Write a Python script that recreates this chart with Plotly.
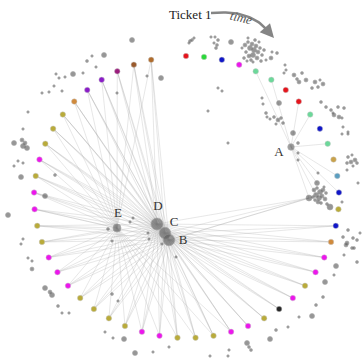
import math
import plotly.graph_objects as go

# ---- ticket ring: colour class of each ticket, in time order (clockwise from top)
ticket_class = [
    "red", "green", "blue", "magenta", "mint", "mint", "red", "red", "mint", "blue",
    "mint", "tan", "teal", "blue", "olive", "blue", "orange", "magenta", "magenta", "olive",
    "magenta", "black", "olive", "magenta", "magenta", "olive", "olive", "olive", "magenta", "magenta",
    "olive", "olive", "olive", "olive", "magenta", "magenta", "magenta", "olive", "olive", "magenta",
    "magenta", "olive", "magenta", "olive", "olive", "olive", "orange", "violet", "violet", "plum",
    "brown", "rust",
]
class_colour = {
    "red": "#e5141c", "green": "#2bd83a", "blue": "#1016c8", "magenta": "#ec16ec",
    "mint": "#6cd89a", "tan": "#c9a24a", "teal": "#5b9ec0", "olive": "#b9ab3a",
    "orange": "#d08a3c", "black": "#262626", "violet": "#8a1cc8", "plum": "#9a1c7c",
    "brown": "#9a5a2c", "rust": "#b06c2c",
}

# ring layout (layout units, y grows downward)
ring_cx, ring_cy, ring_rx, ring_ry = 186.5, 197.0, 152.5, 141.0
ring_start_deg, ring_step_deg = 90.2, 6.8

# ---- hub nodes
hub_names = ["D", "C", "B", "E", "A"]
hub_x = [157, 165, 169, 117, 291]
hub_y = [224, 233, 240, 228, 147]
hub_size = [12, 11.5, 11.5, 8, 6.5]
hub_label_x = [158, 174, 183, 118, 279]
hub_label_y = [207, 223, 241, 214, 153]

# tickets linked to the central hubs (B, C, D) and to E, and to A
hub_linked = list(range(15, 52))
e_linked = list(range(24, 52))
a_linked = [4, 5, 7, 8, 10, 12, 13]

# ---- other nodes: layout x, layout y, size
node_x = [
    190, 192, 194, 189, 211, 215, 218, 217, 216, 214, 231,
    245, 248, 250, 252, 254, 256, 258, 253, 249, 246, 260, 262, 257, 251, 255, 244, 264, 248, 259, 266, 253, 242, 261, 247,
    271, 277, 272, 285, 284, 286, 218, 222, 208,
    294, 299, 302, 306, 297, 315, 318, 323, 312, 320, 279, 262, 263, 267,
    266, 274, 278, 281, 283, 276, 270, 293,
    321, 326, 331, 338, 334, 339, 344, 333, 342, 343, 348,
    298, 298, 298, 342, 348, 348, 352, 355, 351, 347, 357, 353, 347, 358, 318, 317, 228,
    314, 317, 320, 323, 316, 319, 322, 325, 318, 321, 326, 313, 327, 315, 324, 309, 330, 342,
    348, 343, 353, 347, 352, 357, 360, 346, 354, 357, 344,
    336, 334, 325, 323, 316, 312, 299, 288, 276, 270, 247, 249, 251, 229, 228, 210,
    45, 52, 50, 58, 62, 69, 112, 118, 105, 113, 124, 135, 153, 169,
    45, 8, 23, 21, 28, 32, 32, 14, 18, 23, 21, 55,
    104, 92, 96, 87, 83, 73, 65, 56, 59, 54, 49, 42, 62, 117, 28, 23, 14, 22, 23, 27, 25,
    132, 161, 147,
    108, 130, 133, 112, 148, 149, 162, 176,
]
node_y = [
    41, 40, 38, 43, 37, 37, 40, 45, 48, 43, 42,
    45, 42, 48, 44, 50, 46, 52, 55, 56, 52, 48, 55, 58, 60, 40, 58, 50, 38, 42, 60, 62, 48, 61, 61,
    58, 53, 52, 65, 73, 70, 88, 91, 111,
    75, 82, 73, 80, 79, 82, 87, 84, 88, 80, 103, 98, 104, 117,
    113, 117, 120, 118, 123, 124, 119, 133,
    102, 107, 110, 107, 115, 117, 108, 113, 118, 127, 132,
    143, 153, 160, 134, 134, 157, 155, 160, 162, 163, 163, 166, 170, 183, 173, 183, 143,
    190, 188, 192, 190, 195, 198, 196, 199, 202, 203, 193, 197, 204, 200, 187, 198, 207, 202,
    230, 237, 238, 243, 248, 240, 233, 245, 248, 262, 255,
    266, 275, 282, 297, 305, 316, 317, 327, 330, 339, 343, 347, 350, 350, 356, 356,
    288, 295, 292, 306, 313, 313, 294, 301, 332, 338, 339, 353, 352, 347,
    196, 215, 239, 244, 258, 261, 269, 166, 161, 163, 177, 175,
    55, 56, 67, 61, 73, 74, 77, 74, 78, 86, 92, 93, 91, 93, 112, 129, 143, 140, 146, 148, 143,
    40, 78, 76,
    229, 222, 218, 241, 233, 239, 244, 257,
]
node_size = [
    3, 3, 2.5, 2.5, 2.5, 2.5, 3, 3, 3, 2.5, 5,
    4, 3, 5, 4, 5, 4, 4, 5, 4, 3, 3, 3, 4, 3, 3, 3, 3, 2.5, 2.5, 2.5, 2.5, 2.5, 3, 2.5,
    4, 3, 2.5, 2.5, 2.5, 2.5, 2.5, 2.5, 2.5,
    4, 4, 3, 4, 3, 4, 3, 4, 3, 2.5, 5, 2.5, 2.5, 2.5,
    3, 3, 4, 3, 3, 2.5, 2.5, 5,
    3, 3, 3, 3, 4, 4, 3, 2.5, 2.5, 2.5, 2.5,
    3, 2.5, 2.5, 2.5, 2.5, 3, 2.5, 4, 4, 3, 3, 2.5, 2.5, 2.5, 2.5, 5, 2.5,
    4, 3, 5, 4, 5, 5, 4, 4, 4, 3, 3, 3, 3, 3, 2.5, 6, 6, 2.5,
    3, 3, 3, 4, 3, 3, 2.5, 4, 3, 3, 2.5,
    5, 2.5, 5, 3, 3, 5, 2.5, 2.5, 3, 5, 5, 3, 3, 2.5, 2.5, 2.5,
    5, 5, 4, 3, 2.5, 2.5, 3, 2.5, 2.5, 2.5, 5, 5, 2.5, 2.5,
    5, 5, 2.5, 2.5, 2.5, 2.5, 4, 2.5, 2.5, 2.5, 5, 3,
    5, 2.5, 2.5, 3, 2.5, 5, 2.5, 2.5, 2.5, 2.5, 2.5, 2.5, 2.5, 2.5, 2.5, 2.5, 5, 4, 5, 5, 4,
    5, 5, 2.5,
    3, 2.5, 2.5, 2.5, 2.5, 2.5, 2.5, 2.5,
]

# ---- ring positions from the radial layout
n_tickets = len(ticket_class)
ring_x, ring_y = [], []
for i in range(n_tickets):
    a = math.radians(ring_start_deg - i * ring_step_deg)
    ring_x.append(ring_cx + ring_rx * math.cos(a))
    ring_y.append(ring_cy - ring_ry * math.sin(a))

hub = {n: (x, y) for n, x, y in zip(hub_names, hub_x, hub_y)}

# ---- edges
ex, ey = [], []


def link(p, q):
    ex.extend([p[0], q[0], None])
    ey.extend([p[1], q[1], None])


for i in hub_linked:
    for h in ("B", "C", "D"):
        link((ring_x[i], ring_y[i]), hub[h])
for i in e_linked:
    link((ring_x[i], ring_y[i]), hub["E"])
for i in a_linked:
    link((ring_x[i], ring_y[i]), hub["A"])
# links between the right-hand cluster and the hubs
for h in ("B", "C", "D"):
    link((309, 198), hub[h])
link((313, 197), hub["B"])
link(hub["A"], (316, 195))
link(hub["A"], (309, 198))
link(hub["A"], (317, 183))

fig = go.Figure()
fig.add_trace(go.Scatter(
    x=ex, y=ey, mode="lines", hoverinfo="skip",
    line=dict(color="rgba(170,170,170,0.32)", width=0.9),
))
fig.add_trace(go.Scatter(
    x=node_x, y=node_y, mode="markers", hoverinfo="skip",
    marker=dict(size=node_size, color="rgba(70,70,70,0.8)",
                line=dict(color="rgba(130,130,130,0.6)", width=1)),
))
fig.add_trace(go.Scatter(
    x=hub_x, y=hub_y, mode="markers", hoverinfo="skip",
    marker=dict(size=hub_size, color="rgba(90,90,90,0.85)",
                line=dict(color="rgba(140,140,140,0.7)", width=1)),
))
fig.add_trace(go.Scatter(
    x=ring_x, y=ring_y, mode="markers", hoverinfo="skip",
    marker=dict(size=5.5, color=[class_colour[c] for c in ticket_class],
                line=dict(color="rgba(200,200,200,0.6)", width=0.8)),
))
fig.add_trace(go.Scatter(
    x=hub_label_x, y=hub_label_y, mode="text", text=hub_names, hoverinfo="skip",
    textfont=dict(family="Liberation Serif", size=13, color="#333"),
))

# time arrow: quadratic curve from the "Ticket 1" label
p0, pc, p1 = (211, 13), (250, 9), (268, 31)
curve_x, curve_y = [], []
for k in range(31):
    t = k / 30
    curve_x.append((1 - t) ** 2 * p0[0] + 2 * (1 - t) * t * pc[0] + t ** 2 * p1[0])
    curve_y.append((1 - t) ** 2 * p0[1] + 2 * (1 - t) * t * pc[1] + t ** 2 * p1[1])
fig.add_trace(go.Scatter(x=curve_x, y=curve_y, mode="lines", hoverinfo="skip",
                         line=dict(color="#858585", width=2.5)))
fig.add_annotation(x=274, y=38, ax=266, ay=29, axref="x", ayref="y", xref="x", yref="y",
                   text="", showarrow=True, arrowhead=2, arrowsize=1.1,
                   arrowwidth=2.5, arrowcolor="#858585")
fig.add_annotation(x=190, y=14, xref="x", yref="y", text="Ticket 1", showarrow=False,
                   font=dict(family="Liberation Serif", size=13, color="#222"))
fig.add_annotation(x=241, y=17, xref="x", yref="y", text="<i>time</i>", showarrow=False,
                   textangle=13, font=dict(family="Liberation Serif", size=13, color="#555"))

fig.update_layout(
    width=363, height=361, margin=dict(l=0, r=0, t=0, b=0),
    paper_bgcolor="white", plot_bgcolor="white", showlegend=False,
    xaxis=dict(range=[0, 363], visible=False, fixedrange=True),
    yaxis=dict(range=[361, 0], visible=False, fixedrange=True),
)
fig.write_html("out.html")
